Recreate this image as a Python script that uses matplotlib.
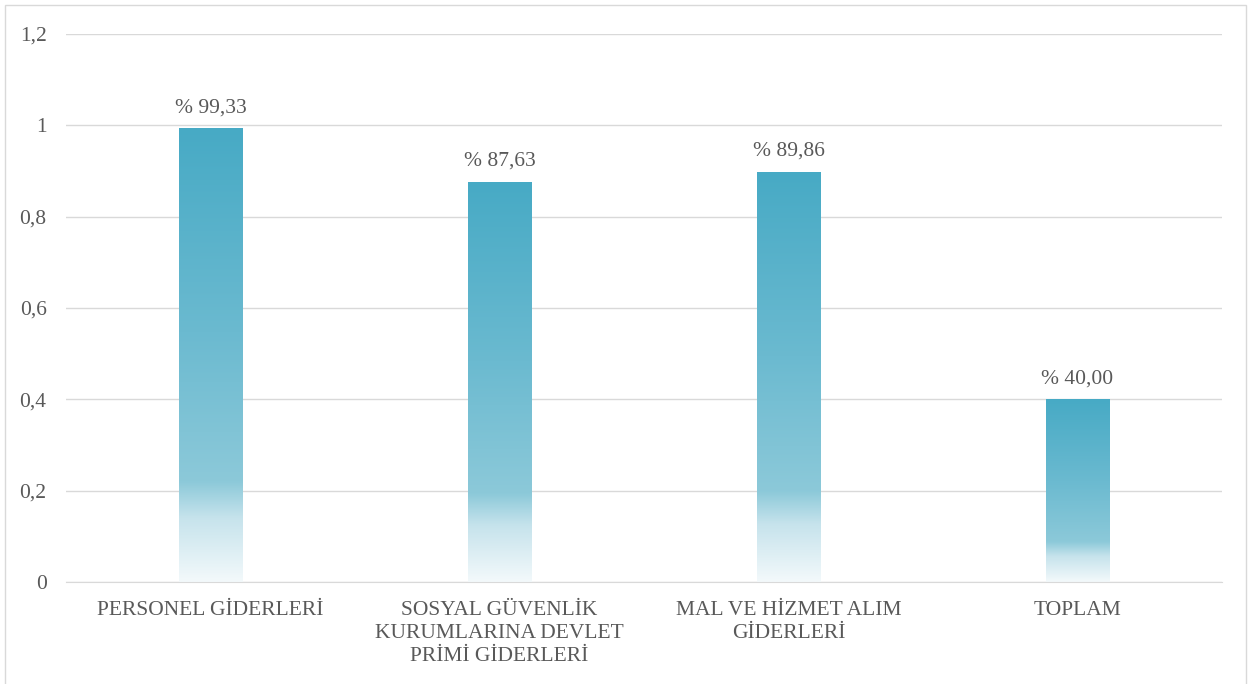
import matplotlib
matplotlib.use("Agg")
import matplotlib.pyplot as plt
import numpy as np
from matplotlib.colors import LinearSegmentedColormap
from matplotlib.patches import Rectangle

# chart data
categories = ["PERSONEL GİDERLERİ",
              "SOSYAL GÜVENLİK\nKURUMLARINA DEVLET\nPRİMİ GİDERLERİ",
              "MAL VE HİZMET ALIM\nGİDERLERİ",
              "TOPLAM"]
values = [0.9933, 0.8763, 0.8986, 0.40]
value_labels = ["% 99,33", "% 87,63", "% 89,86", "% 40,00"]
yticks = [0, 0.2, 0.4, 0.6, 0.8, 1.0, 1.2]
ytick_labels = ["0", "0,2", "0,4", "0,6", "0,8", "1", "1,2"]

plt.rcParams['font.family'] = ['Liberation Serif', 'DejaVu Serif']
text_color = "#595959"
grid_color = "#D9D9D9"
fs = 15.5

fig = plt.figure(figsize=(12.52, 6.84), dpi=100)
ax = fig.add_axes([66 / 1252, 102 / 684, 1156 / 1252, 548 / 684])

# gradient: top (0) -> bottom (1)
cmap = LinearSegmentedColormap.from_list(
    "bar_grad",
    [(0.0, "#47AAC5"), (0.45, "#6BBAD0"), (0.78, "#8CC9D9"),
     (0.86, "#C6E3EC"), (1.0, "#F3F9FB")])
grad = np.linspace(0, 1, 256).reshape(-1, 1)

x = np.arange(len(categories))
bars = ax.bar(x, values, width=0.22, color="none", edgecolor="none", zorder=3)
for b in bars:
    x0, y0 = b.get_x(), b.get_y()
    w, h = b.get_width(), b.get_height()
    im = ax.imshow(grad, cmap=cmap, aspect="auto",
                   extent=[x0, x0 + w, y0, y0 + h], origin="upper", zorder=3)
    im.set_clip_path(b)

for xi, v, lab in zip(x, values, value_labels):
    ax.annotate(lab, (xi, v), xytext=(0, 8), textcoords="offset points",
                ha="center", va="bottom", fontsize=fs, color=text_color)

ax.set_xlim(-0.5, len(categories) - 0.5)
ax.set_ylim(0, 1.2)
ax.set_yticks(yticks)
ax.set_yticklabels(ytick_labels, fontsize=fs, color=text_color)
ax.set_xticks(x)
ax.set_xticklabels(categories, fontsize=fs, color=text_color, linespacing=1.27)
ax.tick_params(axis="both", length=0)
ax.tick_params(axis="y", pad=14)
ax.tick_params(axis="x", pad=14)
ax.yaxis.grid(True, color=grid_color, linewidth=1)
ax.set_axisbelow(True)
for s in ["top", "right", "left"]:
    ax.spines[s].set_visible(False)
ax.spines["bottom"].set_color(grid_color)
ax.spines["bottom"].set_zorder(4)

# outer chart border
fig.patches.append(Rectangle((5 / 1252, -0.01), 1241 / 1252, 1 - 5 / 684 + 0.01,
                             transform=fig.transFigure, fill=False,
                             edgecolor="#D9D9D9", linewidth=1))

fig.savefig("out.png", dpi=100)
